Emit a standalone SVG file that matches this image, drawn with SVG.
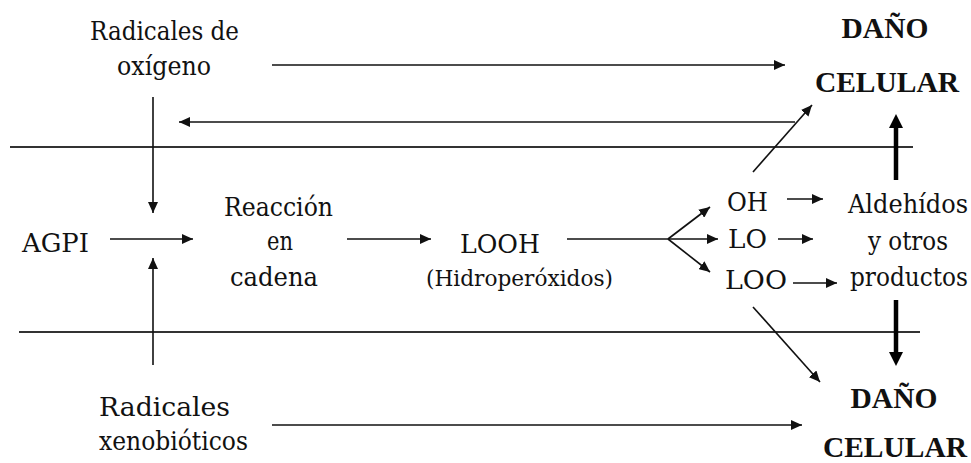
<svg xmlns="http://www.w3.org/2000/svg" width="971" height="463" viewBox="0 0 971 463">
  <style>
    text { font-family: 'DejaVu Serif Condensed', 'DejaVu Serif', serif; font-size: 26.5px; fill: #111; }
    .m { text-anchor: middle; }
    .b { font-family: 'Liberation Serif', 'Times New Roman', serif; font-weight: bold; font-size: 29.5px; }
    .small { font-size: 23px; }
    .div { stroke: #333; stroke-width: 2; fill: none; }
    .c { stroke: #111; stroke-width: 1.6; fill: none; marker-end: url(#ah); }
    .plain { stroke: #111; stroke-width: 1.6; fill: none; }
    .thick { stroke: #000; stroke-width: 4.5; fill: none; marker-end: url(#ahb); }
  </style>
  <defs>
    <marker id="ah" markerUnits="userSpaceOnUse" markerWidth="12" markerHeight="10" refX="11" refY="5" orient="auto">
      <path d="M0,0 L11,5 L0,10 Z" fill="#111"/>
    </marker>
    <marker id="ahb" markerUnits="userSpaceOnUse" markerWidth="14" markerHeight="14" refX="0" refY="7" orient="auto">
      <path d="M0,0 L14,7 L0,14 Z" fill="#000"/>
    </marker>
  </defs>
  <rect width="971" height="463" fill="#fff"/>

  <!-- horizontal separators -->
  <line class="div" x1="10" y1="147" x2="913" y2="147"/>
  <line class="div" x1="19" y1="332" x2="920" y2="332"/>

  <!-- nodes -->
  <g id="radicales-oxigeno">
    <text class="m" x="164.5" y="40" textLength="149" lengthAdjust="spacingAndGlyphs">Radicales de</text>
    <text class="m" x="164" y="75" textLength="94" lengthAdjust="spacingAndGlyphs">oxígeno</text>
  </g>
  <g id="agpi">
    <text x="22" y="252" textLength="67" lengthAdjust="spacingAndGlyphs">AGPI</text>
  </g>
  <g id="reaccion">
    <text class="m" x="278.5" y="216" textLength="109" lengthAdjust="spacingAndGlyphs">Reacción</text>
    <text class="m" x="280" y="250" textLength="26" lengthAdjust="spacingAndGlyphs">en</text>
    <text class="m" x="274" y="286" textLength="88" lengthAdjust="spacingAndGlyphs">cadena</text>
  </g>
  <g id="looh">
    <text class="m" x="500" y="253" textLength="80" lengthAdjust="spacingAndGlyphs">LOOH</text>
    <text class="m small" x="519.5" y="286" textLength="187" lengthAdjust="spacingAndGlyphs">(Hidroperóxidos)</text>
  </g>
  <g id="oh"><text x="727" y="211" textLength="41" lengthAdjust="spacingAndGlyphs">OH</text></g>
  <g id="lo"><text x="728" y="248" textLength="39" lengthAdjust="spacingAndGlyphs">LO</text></g>
  <g id="loo"><text x="725" y="289" textLength="62" lengthAdjust="spacingAndGlyphs">LOO</text></g>
  <g id="aldehidos">
    <text class="m" x="908" y="213" textLength="120" lengthAdjust="spacingAndGlyphs">Aldehídos</text>
    <text class="m" x="908" y="250" textLength="80" lengthAdjust="spacingAndGlyphs">y otros</text>
    <text class="m" x="909" y="286" textLength="118" lengthAdjust="spacingAndGlyphs">productos</text>
  </g>
  <g id="dano-top">
    <text class="m b" x="885" y="38">DAÑO</text>
    <text class="m b" x="887" y="92">CELULAR</text>
  </g>
  <g id="dano-bottom">
    <text class="m b" x="894" y="408">DAÑO</text>
    <text class="m b" x="895" y="457">CELULAR</text>
  </g>
  <g id="radicales-xenobioticos">
    <text x="99" y="416" textLength="131" lengthAdjust="spacingAndGlyphs">Radicales</text>
    <text x="99" y="450" textLength="149" lengthAdjust="spacingAndGlyphs">xenobióticos</text>
  </g>

  <!-- connectors -->
  <g id="connectors">
    <line class="c" x1="272" y1="65" x2="785" y2="65"/>
    <line class="c" x1="795" y1="122" x2="179" y2="122"/>
    <line class="c" x1="153" y1="97" x2="153" y2="213"/>
    <line class="c" x1="153" y1="365" x2="153" y2="258"/>
    <line class="c" x1="110" y1="239" x2="193" y2="239"/>
    <line class="c" x1="347" y1="239" x2="431" y2="239"/>
    <line class="plain" x1="567" y1="239" x2="668" y2="239"/>
    <line class="c" x1="668" y1="239" x2="710" y2="207"/>
    <line class="c" x1="668" y1="239" x2="718" y2="239"/>
    <line class="c" x1="668" y1="239" x2="710" y2="272"/>
    <line class="c" x1="787" y1="199" x2="823" y2="199"/>
    <line class="c" x1="778" y1="239" x2="813" y2="239"/>
    <line class="c" x1="793" y1="283" x2="837" y2="283"/>
    <line class="c" x1="753" y1="172" x2="812" y2="105"/>
    <line class="c" x1="753" y1="307" x2="820" y2="382"/>
    <line class="c" x1="272" y1="425" x2="802" y2="425"/>
    <line class="thick" x1="896" y1="180" x2="896" y2="128"/>
    <line class="thick" x1="896" y1="300" x2="896" y2="352"/>
  </g>
</svg>
